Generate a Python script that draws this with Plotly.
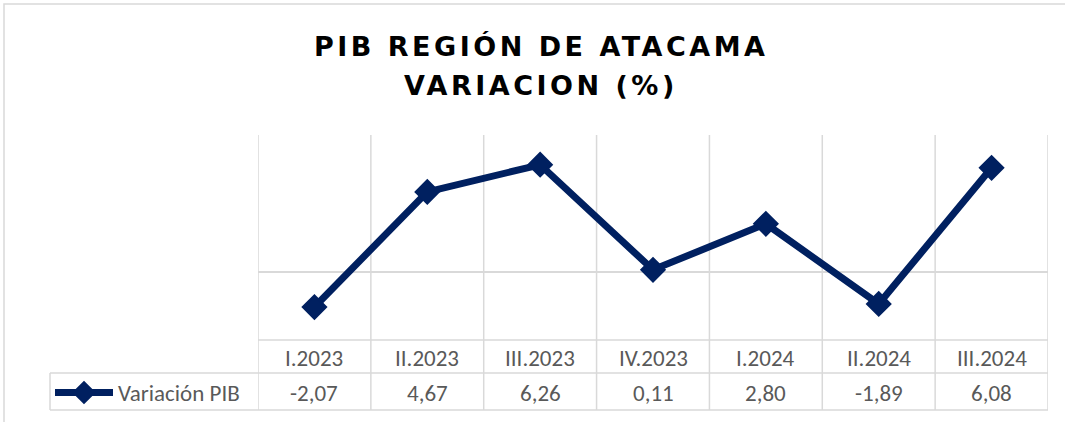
import plotly.graph_objects as go

categories = ["I.2023", "II.2023", "III.2023", "IV.2023", "I.2024", "II.2024", "III.2024"]
values = [-2.07, 4.67, 6.26, 0.11, 2.80, -1.89, 6.08]
series_name = "Variación PIB"
title_lines = ["PIB REGIÓN DE ATACAMA", "VARIACION (%)"]

W, H = 1065, 422
NAVY = "#002060"
GRID = "#d9d9d9"
TXT = "#595959"
FONT = "Calibri, Carlito, Noto Sans, sans-serif"

def px_x(p):
    return p / W

def px_y(p):
    return (H - p) / H

x_left, x_right = 258, 1048
y_top, y_plot_bottom, y_row1, y_row2 = 135, 340, 373, 410
x_table_left = 50

xs = list(range(len(categories)))

fig = go.Figure()
fig.add_trace(go.Scatter(
    x=xs, y=values, mode="lines+markers", name=series_name,
    line=dict(color=NAVY, width=7),
    marker=dict(symbol="diamond", size=18, color=NAVY, line=dict(color=NAVY, width=2)),
    hoverinfo="skip",
))

shapes = []
shapes.append(dict(type="rect", xref="paper", yref="paper", x0=px_x(4), x1=1.02,
                   y0=-0.05, y1=px_y(4), line=dict(color="#d9d9d9", width=1.5)))
n = len(categories)
for i in range(n + 1):
    shapes.append(dict(type="line", xref="x", yref="paper", x0=i - 0.5, x1=i - 0.5,
                       y0=px_y(y_row2), y1=px_y(y_top), line=dict(color=GRID, width=1.5), layer="below"))
shapes.append(dict(type="line", xref="paper", yref="paper", x0=px_x(x_left), x1=px_x(x_right),
                   y0=px_y(y_plot_bottom), y1=px_y(y_plot_bottom), line=dict(color=GRID, width=1.5)))
for yy in (y_row1, y_row2):
    shapes.append(dict(type="line", xref="paper", yref="paper", x0=px_x(x_table_left), x1=px_x(x_right),
                       y0=px_y(yy), y1=px_y(yy), line=dict(color=GRID, width=1.5)))
shapes.append(dict(type="line", xref="paper", yref="paper", x0=px_x(x_table_left), x1=px_x(x_table_left),
                   y0=px_y(y_row2), y1=px_y(y_row1), line=dict(color=GRID, width=1.5)))

annotations = []
for i, (c, v) in enumerate(zip(categories, values)):
    annotations.append(dict(x=i, xref="x", y=px_y((y_plot_bottom + y_row1) / 2 + 1), yref="paper",
                            text=c, showarrow=False, font=dict(family=FONT, size=23, color=TXT),
                            xanchor="center", yanchor="middle"))
    annotations.append(dict(x=i, xref="x", y=px_y((y_row1 + y_row2) / 2 + 1), yref="paper",
                            text=f"{v:.2f}".replace(".", ","), showarrow=False,
                            font=dict(family=FONT, size=23, color=TXT),
                            xanchor="center", yanchor="middle"))

title_font = dict(family="Century Gothic, URW Gothic, DejaVu Sans, sans-serif", size=27, color="#000000")
for txt, yc in zip(title_lines, (46, 85)):
    annotations.append(dict(x=px_x(541), xref="paper", y=px_y(yc), yref="paper",
                            text=f"<b><span style='letter-spacing:3.5px'>{txt}</span></b>",
                            showarrow=False, font=title_font, xanchor="center", yanchor="middle"))

fig.update_layout(
    width=W, height=H,
    margin=dict(l=0, r=0, t=0, b=0),
    paper_bgcolor="white", plot_bgcolor="white",
    showlegend=True,
    legend=dict(x=px_x(50), y=px_y((y_row1 + y_row2) / 2 + 1), xanchor="left", yanchor="middle",
                font=dict(family=FONT, size=23, color=TXT), bgcolor="rgba(0,0,0,0)",
                itemwidth=58, borderwidth=0),
    xaxis=dict(domain=[px_x(x_left), px_x(x_right)], range=[-0.5, n - 0.5],
               showgrid=False, zeroline=False, showticklabels=False, showline=False, ticks=""),
    yaxis=dict(domain=[px_y(y_plot_bottom), px_y(y_top)], range=[-4, 8],
               showgrid=False, zeroline=True, zerolinecolor=GRID, zerolinewidth=1.5,
               showticklabels=False, showline=False, ticks=""),
    shapes=shapes,
    annotations=annotations,
)

fig.write_html("out.html", config={"displayModeBar": False},
               post_script="document.body.style.margin='0px';document.body.style.overflow='hidden';")
